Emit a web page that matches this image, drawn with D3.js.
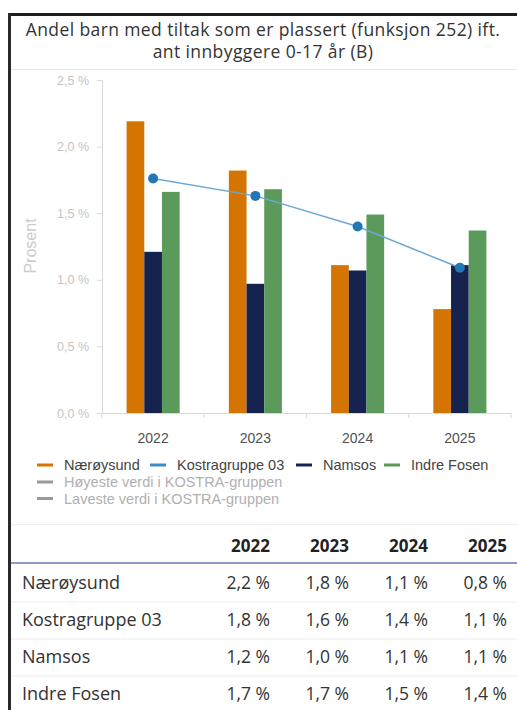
<!DOCTYPE html>
<html>
<head>
<meta charset="utf-8">
<script src="https://cdn.jsdelivr.net/npm/d3@7/dist/d3.min.js"></script>
<style>
  html, body { margin: 0; padding: 0; background: #fff; }
  svg { display: block; }
</style>
</head>
<body>
<svg id="chart" width="517" height="710"></svg>
<script>
// ---------- data ----------
const years = ["2022", "2023", "2024", "2025"];
const barSeries = ["Nærøysund", "Namsos", "Indre Fosen"];
const naeroysund = [2.19, 1.82, 1.11, 0.78];
const namsos = [1.21, 0.97, 1.07, 1.11];
const indreFosen = [1.66, 1.68, 1.49, 1.37];
const kostragruppe03 = [1.76, 1.63, 1.40, 1.09];
const yTicks = [0, 0.5, 1.0, 1.5, 2.0, 2.5];
const titleLines = ["Andel barn med tiltak som er plassert (funksjon 252) ift.", "ant innbyggere 0-17 år (B)"];
const tableRows = ["Nærøysund", "Kostragruppe 03", "Namsos", "Indre Fosen"];
const legendRow1 = ["Nærøysund", "Kostragruppe 03", "Namsos", "Indre Fosen"];
const legendExtra = ["Høyeste verdi i KOSTRA-gruppen", "Laveste verdi i KOSTRA-gruppen"];

const colors = {
  "Nærøysund": "#d37500",
  "Kostragruppe 03": "#3d8cc8",
  "Namsos": "#17234f",
  "Indre Fosen": "#5c9a5c"
};
const barValues = { "Nærøysund": naeroysund, "Namsos": namsos, "Indre Fosen": indreFosen };
const tableValues = { "Nærøysund": naeroysund, "Kostragruppe 03": kostragruppe03, "Namsos": namsos, "Indre Fosen": indreFosen };

const fmt = v => d3.format(".1f")(v).replace(".", ",") + " %";

const svg = d3.select("#chart");

// ---------- frame ----------
svg.append("rect").attr("x", 8).attr("y", 13).attr("width", 509).attr("height", 3).attr("fill", "#1e1e1e");
svg.append("rect").attr("x", 8).attr("y", 13).attr("width", 3).attr("height", 697).attr("fill", "#2a2a2a");

// ---------- title ----------
const title = svg.append("g");
title.selectAll("text").data(titleLines).join("text")
  .attr("x", 263).attr("y", (d, i) => 36 + i * 22)
  .attr("text-anchor", "middle")
  .attr("font-family", "'Open Sans', sans-serif")
  .attr("font-size", 17.5)
  .attr("letter-spacing", 0.4)
  .attr("fill", "#333")
  .text(d => d);

svg.append("line").attr("x1", 11).attr("x2", 517).attr("y1", 69.5).attr("y2", 69.5)
  .attr("stroke", "#e8e8e8").attr("stroke-width", 1);

// ---------- scales ----------
const x = d3.scaleBand().domain(years).range([102, 511]).padding(0);
const x1 = d3.scaleBand().domain(barSeries).range([0, x.bandwidth()]).paddingInner(0).paddingOuter(1.39);
const y = d3.scaleLinear().domain([0, 2.5]).range([413, 80]);

// ---------- y axis ----------
const yAxis = svg.append("g").attr("transform", "translate(102,0)")
  .call(d3.axisLeft(y).tickValues(yTicks).tickSize(5).tickSizeOuter(0).tickPadding(8)
    .tickFormat(fmt));
yAxis.select(".domain").attr("stroke", "#d9d9d9");
yAxis.selectAll(".tick line").attr("stroke", "#d9d9d9");
yAxis.selectAll(".tick text")
  .attr("font-family", "'Liberation Sans', Arial, sans-serif")
  .attr("font-size", 12.5)
  .attr("fill", "#c4c4c4");

svg.append("text")
  .attr("transform", "translate(36,246) rotate(-90)")
  .attr("text-anchor", "middle")
  .attr("font-family", "'Liberation Sans', Arial, sans-serif")
  .attr("font-size", 16)
  .attr("fill", "#cccccc")
  .text("Prosent");

// ---------- x axis ----------
const xAxis = svg.append("g").attr("transform", "translate(0,413)")
  .call(d3.axisBottom(x).tickSize(0).tickPadding(20).tickSizeOuter(0));
xAxis.select(".domain").attr("stroke", "#d9d9d9");
xAxis.selectAll(".tick text")
  .attr("font-family", "'Liberation Sans', Arial, sans-serif")
  .attr("font-size", 14)
  .attr("fill", "#505050");
const boundaries = years.map(d => x(d)).concat([x(years[years.length - 1]) + x.bandwidth()]);
svg.append("g").selectAll("line").data(boundaries).join("line")
  .attr("x1", d => d).attr("x2", d => d).attr("y1", 413).attr("y2", 418)
  .attr("stroke", "#d9d9d9");

// ---------- bars ----------
const groups = svg.append("g").selectAll("g").data(years).join("g")
  .attr("transform", d => `translate(${x(d)},0)`);
groups.selectAll("rect")
  .data((d, i) => barSeries.map(s => ({ s, v: barValues[s][i] })))
  .join("rect")
  .attr("x", d => x1(d.s))
  .attr("width", x1.bandwidth())
  .attr("y", d => y(d.v))
  .attr("height", d => y(0) - y(d.v))
  .attr("fill", d => colors[d.s]);

// ---------- line ----------
const lineGen = d3.line().x((d, i) => x(years[i]) + x.bandwidth() / 2).y(d => y(d));
svg.append("path").datum(kostragruppe03)
  .attr("d", lineGen).attr("fill", "none")
  .attr("stroke", "#6aa8d6").attr("stroke-width", 1.5);
svg.append("g").selectAll("circle").data(kostragruppe03).join("circle")
  .attr("cx", (d, i) => x(years[i]) + x.bandwidth() / 2)
  .attr("cy", d => y(d))
  .attr("r", 5)
  .attr("fill", "#2277b7");

// ---------- legend ----------
const legFont = "'Liberation Sans', Arial, sans-serif";
const leg1x = [37, 150, 296, 384];
const leg = svg.append("g");
const l1 = leg.selectAll("g.l1").data(legendRow1).join("g").attr("class", "l1")
  .attr("transform", (d, i) => `translate(${leg1x[i]},465)`);
l1.append("line").attr("x1", 0).attr("x2", 16).attr("y1", 0).attr("y2", 0)
  .attr("stroke", d => colors[d]).attr("stroke-width", 3);
l1.append("text").attr("x", 27).attr("y", 5)
  .attr("font-family", legFont).attr("font-size", 14.5).attr("fill", "#444").text(d => d);

const l2 = leg.selectAll("g.l2").data(legendExtra).join("g").attr("class", "l2")
  .attr("transform", (d, i) => `translate(37,${482 + i * 16.5})`);
l2.append("line").attr("x1", 0).attr("x2", 16).attr("y1", 0).attr("y2", 0)
  .attr("stroke", "#9a9a9a").attr("stroke-width", 3);
l2.append("text").attr("x", 27).attr("y", 5)
  .attr("font-family", legFont).attr("font-size", 14.5).attr("fill", "#b0b0b0").text(d => d);

svg.append("line").attr("x1", 11).attr("x2", 517).attr("y1", 524.5).attr("y2", 524.5)
  .attr("stroke", "#ececec").attr("stroke-width", 1);

// ---------- table ----------
const tFont = "'Open Sans', sans-serif";
const colRight = [270, 349, 428, 507];
const table = svg.append("g");
table.selectAll("text.h").data(years).join("text").attr("class", "h")
  .attr("x", (d, i) => colRight[i]).attr("y", 552)
  .attr("text-anchor", "end")
  .attr("font-family", tFont).attr("font-weight", 700).attr("font-size", 17)
  .attr("fill", "#222").text(d => d);
table.append("line").attr("x1", 11).attr("x2", 517).attr("y1", 563).attr("y2", 563)
  .attr("stroke", "#8d9cc4").attr("stroke-width", 2);

const rowH = 37;
const rows = table.selectAll("g.row").data(tableRows).join("g").attr("class", "row")
  .attr("transform", (d, i) => `translate(0,${583 + i * rowH})`);
rows.append("text").attr("x", 22).attr("y", 6)
  .attr("font-family", tFont).attr("font-size", 18).attr("fill", "#333").text(d => d);
rows.selectAll("text.v").data(d => tableValues[d].map(v => v)).join("text").attr("class", "v")
  .attr("x", (d, i) => colRight[i]).attr("y", 6)
  .attr("text-anchor", "end")
  .attr("font-family", tFont).attr("font-size", 17.5).attr("fill", "#333").text(d => fmt(d));
rows.filter((d, i) => i < tableRows.length - 1).append("line")
  .attr("x1", 11).attr("x2", 517).attr("y1", 19).attr("y2", 19)
  .attr("stroke", "#ececec").attr("stroke-width", 1);
</script>
</body>
</html>
